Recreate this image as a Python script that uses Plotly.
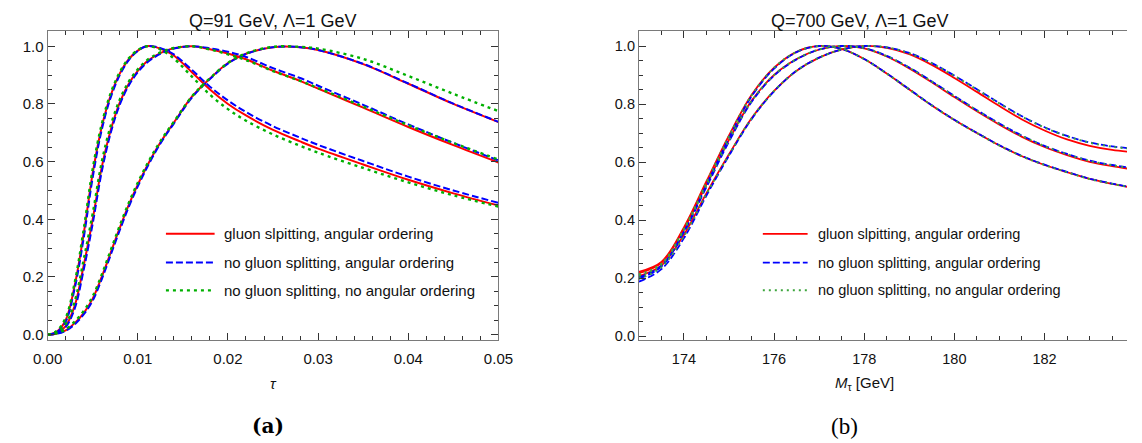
import plotly.graph_objects as go

W, H = 1142, 443

# ---------------- panel (a): Q = 91 GeV ----------------
tau = [0, 0.001, 0.002, 0.003, 0.004, 0.005, 0.006, 0.007, 0.008, 0.009, 0.010,
       0.011, 0.012, 0.013, 0.014, 0.016, 0.018, 0.020, 0.022, 0.025, 0.028,
       0.030, 0.035, 0.040, 0.045, 0.050]

a_gs_ao = [0, 0.01, 0.05, 0.17, 0.35, 0.56, 0.72, 0.83, 0.905, 0.955, 0.985,
           1.0, 0.997, 0.985, 0.968, 0.91, 0.85, 0.80, 0.76, 0.71, 0.67,
           0.645, 0.59, 0.537, 0.49, 0.448]
a_ngs_ao = [0, 0.008, 0.045, 0.16, 0.335, 0.545, 0.71, 0.823, 0.9, 0.952, 0.984,
            1.0, 0.998, 0.988, 0.972, 0.918, 0.86, 0.812, 0.772, 0.723, 0.683,
            0.658, 0.602, 0.548, 0.5, 0.457]
a_ngs_nao = [0, 0.013, 0.058, 0.18, 0.365, 0.575, 0.73, 0.838, 0.91, 0.958, 0.987,
             1.0, 0.995, 0.98, 0.958, 0.895, 0.832, 0.782, 0.742, 0.694, 0.655,
             0.631, 0.578, 0.528, 0.483, 0.444]

b_gs_ao = [0, 0.005, 0.03, 0.10, 0.24, 0.40, 0.58, 0.71, 0.805, 0.87, 0.915,
           0.947, 0.968, 0.983, 0.993, 1.0, 0.99, 0.975, 0.955, 0.915, 0.88,
           0.853, 0.787, 0.72, 0.657, 0.597]
b_ngs_ao = [0, 0.004, 0.026, 0.09, 0.225, 0.385, 0.565, 0.70, 0.797, 0.864, 0.91,
            0.943, 0.965, 0.981, 0.992, 1.0, 0.993, 0.981, 0.963, 0.924, 0.89,
            0.863, 0.797, 0.729, 0.665, 0.604]
b_ngs_nao = [0, 0.007, 0.036, 0.115, 0.26, 0.42, 0.598, 0.725, 0.815, 0.877, 0.92,
             0.951, 0.971, 0.985, 0.994, 1.0, 0.989, 0.972, 0.952, 0.914, 0.88,
             0.855, 0.791, 0.726, 0.665, 0.607]

c_gs_ao = [0, 0.004, 0.015, 0.04, 0.075, 0.125, 0.20, 0.285, 0.37, 0.45, 0.52,
           0.583, 0.64, 0.69, 0.735, 0.825, 0.888, 0.942, 0.974, 0.997, 0.997,
           0.987, 0.938, 0.87, 0.80, 0.737]
c_ngs_ao = [0, 0.003, 0.013, 0.036, 0.07, 0.118, 0.192, 0.277, 0.362, 0.443, 0.514,
            0.578, 0.636, 0.687, 0.732, 0.822, 0.886, 0.94, 0.973, 0.997, 0.997,
            0.987, 0.939, 0.871, 0.801, 0.738]
c_ngs_nao = [0, 0.005, 0.018, 0.045, 0.082, 0.133, 0.208, 0.293, 0.378, 0.457, 0.527,
             0.589, 0.645, 0.694, 0.738, 0.826, 0.889, 0.942, 0.975, 0.998, 0.998,
             0.992, 0.956, 0.897, 0.835, 0.775]

# ---------------- panel (b): Q = 700 GeV ----------------
mtau = [173, 173.5, 174, 174.5, 175, 175.5, 176, 176.5, 177, 177.5, 178, 178.5,
        179, 179.5, 180, 180.5, 181, 181.5, 182, 182.5, 183, 183.5, 184]

r1_gs_ao = [0.222, 0.256, 0.375, 0.534, 0.692, 0.831, 0.925, 0.98, 1.0, 0.99, 0.955, 0.905,
            0.85, 0.795, 0.745, 0.70, 0.657, 0.62, 0.59, 0.565, 0.542, 0.525, 0.51]
r1_ngs_ao = [0.203, 0.243, 0.36, 0.522, 0.683, 0.826, 0.922, 0.979, 1.0, 0.99, 0.955, 0.906,
             0.851, 0.796, 0.746, 0.701, 0.658, 0.621, 0.591, 0.566, 0.543, 0.526, 0.511]
r1_ngs_nao = [0.213, 0.25, 0.37, 0.53, 0.69, 0.83, 0.925, 0.98, 1.0, 0.99, 0.955, 0.905,
              0.85, 0.795, 0.745, 0.70, 0.657, 0.62, 0.59, 0.565, 0.542, 0.525, 0.51]

r2_gs_ao = [0.217, 0.253, 0.37, 0.523, 0.677, 0.811, 0.90, 0.955, 0.988, 1.0, 0.992, 0.964,
            0.923, 0.875, 0.824, 0.775, 0.729, 0.687, 0.652, 0.624, 0.601, 0.586, 0.574]
r2_ngs_ao = [0.198, 0.24, 0.36, 0.514, 0.671, 0.807, 0.898, 0.954, 0.988, 1.0, 0.993, 0.966,
             0.926, 0.878, 0.828, 0.779, 0.733, 0.691, 0.656, 0.628, 0.605, 0.59, 0.578]
r2_ngs_nao = [0.208, 0.247, 0.366, 0.52, 0.675, 0.81, 0.90, 0.955, 0.988, 1.0, 0.992, 0.965,
              0.925, 0.877, 0.827, 0.778, 0.732, 0.69, 0.655, 0.627, 0.604, 0.589, 0.577]

r3_gs_ao = [0.207, 0.244, 0.35, 0.493, 0.627, 0.751, 0.845, 0.915, 0.96, 0.988, 1.0, 0.994,
            0.972, 0.935, 0.89, 0.842, 0.793, 0.747, 0.709, 0.678, 0.656, 0.642, 0.634]
r3_ngs_ao = [0.188, 0.231, 0.338, 0.485, 0.622, 0.748, 0.844, 0.915, 0.96, 0.988, 1.0, 0.995,
             0.976, 0.941, 0.898, 0.851, 0.803, 0.758, 0.72, 0.69, 0.668, 0.654, 0.646]
r3_ngs_nao = [0.198, 0.238, 0.345, 0.49, 0.625, 0.75, 0.845, 0.915, 0.96, 0.988, 1.0, 0.995,
              0.975, 0.94, 0.897, 0.85, 0.802, 0.757, 0.719, 0.689, 0.667, 0.653, 0.645]

labels = ["gluon slpitting, angular ordering",
          "no gluon splitting, angular ordering",
          "no gluon splitting, no angular ordering"]

RED, BLUE, GREEN_A, GREEN_B = "#ff0000", "#0000ff", "#00b000", "#3ea63e"
styles_a = [dict(color=RED, width=2.0, dash="solid"),
            dict(color=BLUE, width=2.0, dash="7px,3px"),
            dict(color=GREEN_A, width=2.4, dash="3px,4px")]
styles_b = [dict(color=RED, width=1.8, dash="solid"),
            dict(color=BLUE, width=1.8, dash="7px,3px"),
            dict(color=GREEN_B, width=2.0, dash="2px,4px")]

fig = go.Figure()

panel_a = [(a_gs_ao, a_ngs_ao, a_ngs_nao),
           (b_gs_ao, b_ngs_ao, b_ngs_nao),
           (c_gs_ao, c_ngs_ao, c_ngs_nao)]
panel_b = [(r1_gs_ao, r1_ngs_ao, r1_ngs_nao),
           (r2_gs_ao, r2_ngs_ao, r2_ngs_nao),
           (r3_gs_ao, r3_ngs_ao, r3_ngs_nao)]

for k in range(3):
    for group in panel_a:
        fig.add_trace(go.Scatter(x=tau, y=group[k], mode="lines", line=styles_a[k],
                                 line_shape="spline", name=labels[k], showlegend=False,
                                 xaxis="x", yaxis="y"))
for k in range(3):
    for group in panel_b:
        fig.add_trace(go.Scatter(x=mtau, y=group[k], mode="lines", line=styles_b[k],
                                 line_shape="spline", name=labels[k], showlegend=False,
                                 xaxis="x2", yaxis="y2"))

FONT = "Liberation Sans, Arial, sans-serif"
FRAME = "#7a7a7a"
TICKC = "#333333"
TXT = "#111111"

ydom = [(H - 343.3) / H, (H - 31.7) / H]

common = dict(showgrid=False, zeroline=False, showline=True, linecolor=FRAME, linewidth=1,
              ticks="inside", tickcolor=TICKC, tickwidth=1, ticklen=7)

fig.update_layout(
    width=W, height=H, autosize=False,
    margin=dict(l=0, r=0, t=0, b=0),
    paper_bgcolor="white", plot_bgcolor="white",
    xaxis=dict(domain=[33.5 / W, 496.5 / W], range=[0, 0.05], tick0=0, dtick=0.01,
               tickformat=".2f", mirror="ticks", anchor="y", ticklabelstandoff=5,
               minor=dict(dtick=0.002, ticks="inside", ticklen=4, tickcolor=TICKC),
               tickfont=dict(family=FONT, size=15, color=TXT), **common),
    yaxis=dict(domain=ydom, range=[-0.0192, 1.0515], tick0=0, dtick=0.2,
               tickformat=".1f", mirror="ticks", anchor="x",
               minor=dict(dtick=0.05, ticks="inside", ticklen=4, tickcolor=TICKC),
               tickfont=dict(family=FONT, size=15, color=TXT), **common),
    xaxis2=dict(domain=[640.7 / W, 1.0], range=[173, 183.83], tick0=174, dtick=2,
                mirror="ticks", anchor="y2", ticklabelstandoff=5,
                minor=dict(dtick=0.5, ticks="inside", ticklen=4, tickcolor=TICKC),
                tickfont=dict(family=FONT, size=14.5, color=TXT), **common),
    yaxis2=dict(domain=ydom, range=[-0.0137, 1.0503], tick0=0, dtick=0.2,
                tickformat=".1f", mirror=False, anchor="x2",
                minor=dict(dtick=0.05, ticks="inside", ticklen=4, tickcolor=TICKC),
                tickfont=dict(family=FONT, size=14.5, color=TXT), **common),
)


def px(x):
    return x / W


def py(y):
    return 1 - y / H


def label(text, x, y, size, family=FONT, xanchor="center", color=TXT):
    return dict(text=text, x=px(x), y=py(y), xref="paper", yref="paper",
                xanchor=xanchor, yanchor="middle", showarrow=False,
                font=dict(family=family, size=size, color=color))


ann = []
shapes = []

# panel titles
ann.append(label("Q=91 GeV, Λ=1 GeV", 264, 21, 18))
ann.append(label("Q=700 GeV, Λ=1 GeV", 867, 21, 18))

# axis titles
ann.append(label("<i>τ</i>", 265, 387, 15))
ann.append(label("<i>M</i><sub>τ</sub> [GeV]", 872, 387, 15))

# sub-figure captions
ann.append(label("<b>(a)</b>", 260, 430, 20, family="DejaVu Serif, serif", color="#000000"))
ann.append(label("(b)", 852, 430, 23, family="Liberation Serif, serif", color="#000000"))

# legends
rows = [236, 265, 293]
for (x0, x1, xt, fsize, styles) in [(155, 205, 213, 15, styles_a),
                                    (768, 814, 823, 14.5, styles_b)]:
    for k, yy in enumerate(rows):
        st = styles[k]
        shapes.append(dict(type="line", xref="paper", yref="paper",
                           x0=px(x0), x1=px(x1), y0=py(yy), y1=py(yy),
                           line=dict(color=st["color"], width=st["width"], dash=st["dash"])))
        ann.append(label(labels[k], xt, yy, fsize, xanchor="left"))

fig.update_layout(annotations=ann, shapes=shapes)

fig.write_html("out.html")
